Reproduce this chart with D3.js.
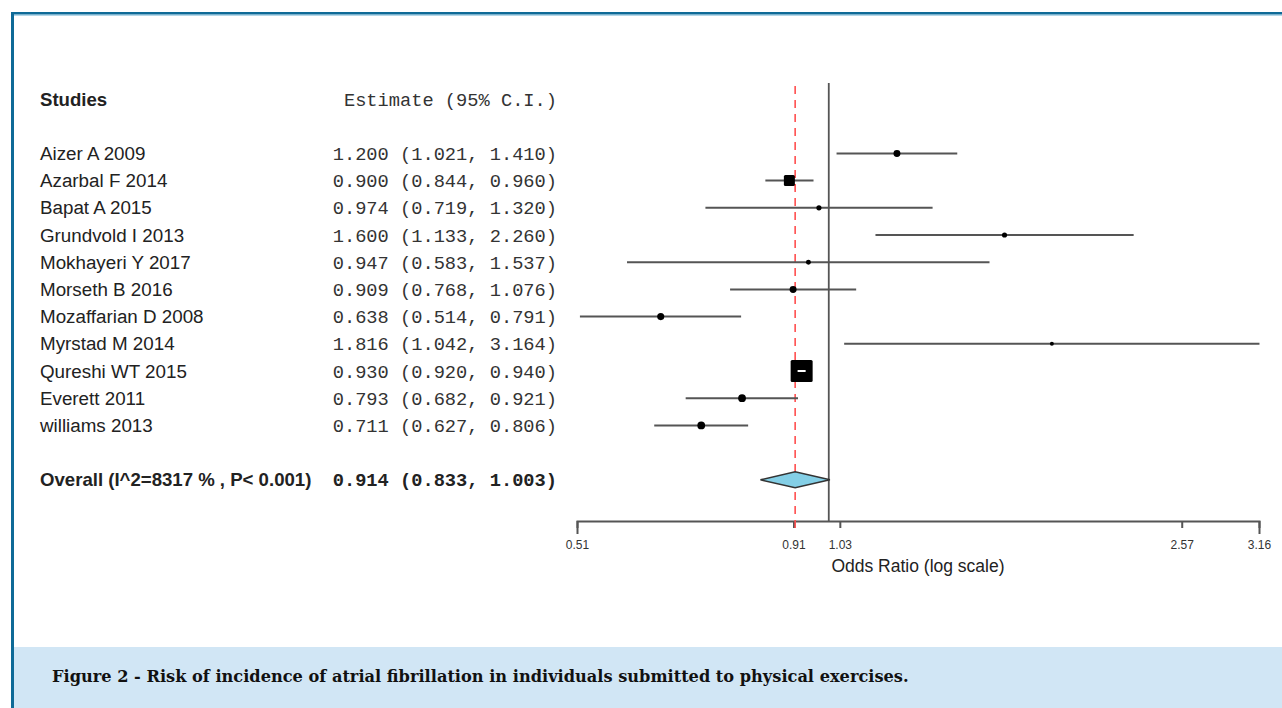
<!DOCTYPE html>
<html>
<head>
<meta charset="utf-8">
<script src="https://cdn.jsdelivr.net/npm/d3@7"></script>
<style>
  html, body { margin: 0; padding: 0; background: #ffffff; }
  svg { display: block; }
</style>
</head>
<body>
<svg id="chart" width="1282" height="708"></svg>
<script>
// ---- data ----
const studies = ["Aizer A 2009", "Azarbal F 2014", "Bapat A 2015", "Grundvold I 2013",
  "Mokhayeri Y 2017", "Morseth B 2016", "Mozaffarian D 2008", "Myrstad M 2014",
  "Qureshi WT 2015", "Everett 2011", "williams 2013"];
const estimates = [1.200, 0.900, 0.974, 1.600, 0.947, 0.909, 0.638, 1.816, 0.930, 0.793, 0.711];
const lowers    = [1.021, 0.844, 0.719, 1.133, 0.583, 0.768, 0.514, 1.042, 0.920, 0.682, 0.627];
const uppers    = [1.410, 0.960, 1.320, 2.260, 1.537, 1.076, 0.791, 3.164, 0.940, 0.921, 0.806];
const weights   = [4.0, 10.0, 2.2, 2.2, 2.0, 4.0, 4.2, 1.3, 40.0, 5.0, 5.0];
const overallLabel = "Overall (I^2=8317 % , P< 0.001)";
const overallEst = 0.914, overallLow = 0.833, overallHigh = 1.003;
const tickValues = [0.51, 0.91, 1.03, 2.57, 3.16];
const tickLabels = ["0.51", "0.91", "1.03", "2.57", "3.16"];
const axisTitle = "Odds Ratio (log scale)";
const headerStudy = "Studies";
const headerEst = "Estimate (95% C.I.)";
const caption = "Figure 2 - Risk of incidence of atrial fibrillation in individuals submitted to physical exercises.";

const fmt = d3.format(".3f");
const ciText = (e, l, u) => `${fmt(e)} (${fmt(l)}, ${fmt(u)})`;

// ---- layout ----
const svg = d3.select("#chart");
const W = 1282, H = 708;

// frame
svg.append("rect").attr("x", 14).attr("y", 647).attr("width", W - 14).attr("height", H - 647).attr("fill", "#d1e6f5");
svg.append("rect").attr("x", 11).attr("y", 12).attr("width", W - 11).attr("height", 2.5).attr("fill", "#0e6a97");
svg.append("rect").attr("x", 11).attr("y", 14.5).attr("width", W - 11).attr("height", 1).attr("fill", "#6aaed0");
svg.append("rect").attr("x", 11).attr("y", 12).attr("width", 3).attr("height", H - 12).attr("fill", "#0e6a97");

svg.append("text").attr("x", 52).attr("y", 682)
  .attr("font-family", "'DejaVu Serif', 'Liberation Serif', serif")
  .attr("font-weight", "bold").attr("font-size", 16.2).attr("fill", "#111")
  .text(caption);

// scales
const x = d3.scaleLog().domain([tickValues[0], tickValues[tickValues.length - 1]]).range([577, 1259]);
const rowKeys = d3.range(15);
const y = d3.scalePoint().domain(rowKeys).range([99, 99 + 14 * 27.2]);
const studyRow = i => y(i + 2);
const overallRow = y(14);
const size = d3.scaleSqrt().domain([0, d3.max(weights)]).range([0, 22]);

const sansFont = "'Liberation Sans', Arial, sans-serif";
const monoFont = "'Liberation Mono', 'Courier New', monospace";
const sansSize = 18.8;

// headers
svg.append("text").attr("x", 40).attr("y", y(0)).attr("dy", "0.35em")
  .attr("font-family", sansFont).attr("font-weight", "bold").attr("font-size", 18.6).attr("fill", "#222")
  .text(headerStudy);
svg.append("text").attr("x", 557).attr("y", y(0)).attr("dy", "0.35em").attr("text-anchor", "end")
  .attr("font-family", monoFont).attr("font-size", 18.7).attr("fill", "#333")
  .text(headerEst);

// study labels & estimate text
studies.forEach((s, i) => {
  svg.append("text").attr("x", 40).attr("y", studyRow(i)).attr("dy", "0.35em")
    .attr("font-family", sansFont).attr("font-size", sansSize).attr("fill", "#222").text(s);
  svg.append("text").attr("x", 557).attr("y", studyRow(i)).attr("dy", "0.35em").attr("text-anchor", "end")
    .attr("font-family", monoFont).attr("font-size", 18.7).attr("fill", "#333")
    .text(ciText(estimates[i], lowers[i], uppers[i]));
});
svg.append("text").attr("x", 40).attr("y", overallRow).attr("dy", "0.35em")
  .attr("font-family", sansFont).attr("font-weight", "bold").attr("font-size", 18.6).attr("fill", "#222")
  .text(overallLabel);
svg.append("text").attr("x", 557).attr("y", overallRow).attr("dy", "0.35em").attr("text-anchor", "end")
  .attr("font-family", monoFont).attr("font-weight", "bold").attr("font-size", 18.7).attr("fill", "#222")
  .text(ciText(overallEst, overallLow, overallHigh));

// axis
const axisY = 521;
const axis = d3.axisBottom(x).tickValues(tickValues).tickFormat((d, i) => tickLabels[i]).tickSizeOuter(0).tickSize(7);
const gAxis = svg.append("g").attr("transform", `translate(0,${axisY})`).call(axis);
gAxis.select(".domain").attr("stroke", "#555").attr("stroke-width", 2);
gAxis.selectAll(".tick line").attr("stroke", "#555").attr("stroke-width", 2)
  .attr("y2", (d, i) => (i === 0 || i === tickValues.length - 1) ? 13 : 7);
gAxis.selectAll(".tick text").attr("y", 19).attr("font-family", sansFont).attr("font-size", 12).attr("fill", "#333");
svg.append("text").attr("x", (x.range()[0] + x.range()[1]) / 2).attr("y", 566).attr("dy", "0.35em")
  .attr("text-anchor", "middle").attr("font-family", sansFont).attr("font-size", 17.5).attr("fill", "#222")
  .text(axisTitle);

// reference lines
svg.append("line").attr("x1", x(1)).attr("x2", x(1)).attr("y1", 83).attr("y2", axisY)
  .attr("stroke", "#555").attr("stroke-width", 1.8);
svg.append("line").attr("x1", x(overallEst)).attr("x2", x(overallEst)).attr("y1", 86).attr("y2", 530)
  .attr("stroke", "#ff4f4f").attr("stroke-width", 1.6).attr("stroke-dasharray", "8,6");

// CI lines and boxes
studies.forEach((s, i) => {
  const cy = studyRow(i);
  const sz = size(weights[i]);
  const lineW = x(uppers[i]) - x(lowers[i]);
  svg.append("line").attr("x1", x(lowers[i])).attr("x2", x(uppers[i])).attr("y1", cy).attr("y2", cy)
    .attr("stroke", "#555").attr("stroke-width", 2);
  svg.append("rect").attr("x", x(estimates[i]) - sz / 2).attr("y", cy - sz / 2)
    .attr("width", sz).attr("height", sz).attr("rx", sz < 9 ? sz / 2 : 1.5).attr("fill", "#000");
  if (lineW < sz) {
    svg.append("line").attr("x1", x(lowers[i])).attr("x2", x(uppers[i])).attr("y1", cy).attr("y2", cy)
      .attr("stroke", "#fff").attr("stroke-width", 2);
  }
});

// overall diamond
const dh = 8;
svg.append("path")
  .attr("d", `M${x(overallLow)},${overallRow} L${x(overallEst)},${overallRow - dh} L${x(overallHigh)},${overallRow} L${x(overallEst)},${overallRow + dh} Z`)
  .attr("fill", "#84cfe6").attr("stroke", "#333").attr("stroke-width", 1.5);
</script>
</body>
</html>
